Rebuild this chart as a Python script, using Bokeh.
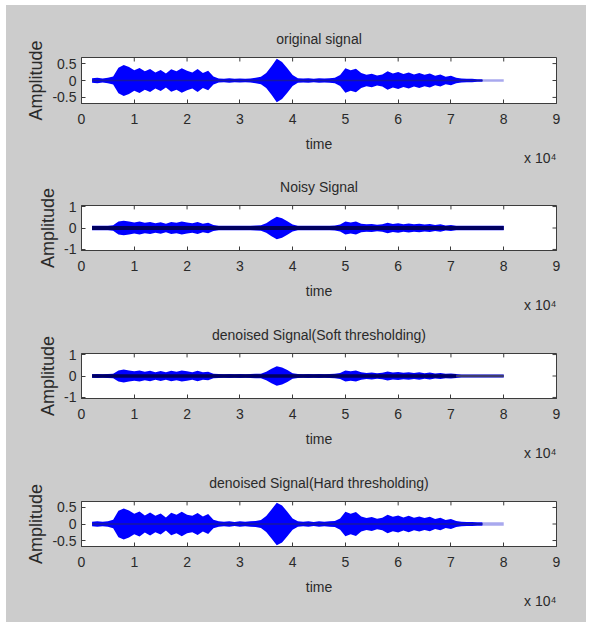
import numpy as np
from bokeh.plotting import figure
from bokeh.layouts import column
from bokeh.models import FixedTicker, Range1d, Title
from bokeh.embed import file_html
from bokeh.resources import INLINE

# ---------------- data ----------------
titles = ["original signal", "Noisy Signal",
          "denoised Signal(Soft thresholding)", "denoised Signal(Hard thresholding)"]
x_label = "time"
y_label = "Amplitude"
x_ticks = [0, 10000, 20000, 30000, 40000, 50000, 60000, 70000, 80000, 90000]
x_tick_labels = ["0", "1", "2", "3", "4", "5", "6", "7", "8", "9"]
x_multiplier = "x 10\u2074"
y_ticks_small = [-0.5, 0, 0.5]
y_tick_labels_small = ["-0.5", "0", "0.5"]
y_ticks_big = [-1, 0, 1]
y_tick_labels_big = ["-1", "0", "1"]
y_limits = [0.68, 1.05, 1.05, 0.68]

sample_times = [2000, 3000, 4000, 5000, 6000, 7000, 8000, 9000, 10000, 11000,
                12000, 13000, 14000, 15000, 16000, 17000, 18000, 19000, 20000, 21000,
                22000, 23000, 24000, 25000, 26000, 27000, 28000, 29000, 30000, 31000,
                32000, 33000, 34000, 35000, 36000, 37000, 38000, 39000, 40000, 41000,
                42000, 43000, 44000, 45000, 46000, 47000, 48000, 49000, 50000, 51000,
                52000, 53000, 54000, 55000, 56000, 57000, 58000, 59000, 60000, 61000,
                62000, 63000, 64000, 65000, 66000, 67000, 68000, 69000, 70000, 71000,
                72000, 73000, 74000, 75000, 76000, 77000, 78000, 79000, 80000]

env_original = [0.07, 0.08, 0.06, 0.08, 0.12,
                0.38, 0.46, 0.40, 0.30, 0.37,
                0.27, 0.34, 0.24, 0.31, 0.21,
                0.33, 0.27, 0.36, 0.29, 0.24,
                0.34, 0.22, 0.29, 0.12, 0.06,
                0.05, 0.07, 0.05, 0.06, 0.05,
                0.06, 0.08, 0.11, 0.22, 0.42,
                0.64, 0.55, 0.36, 0.16, 0.07,
                0.06, 0.07, 0.05, 0.07, 0.06,
                0.07, 0.08, 0.16, 0.36, 0.30,
                0.35, 0.22, 0.17, 0.20, 0.15,
                0.18, 0.27, 0.21, 0.25, 0.19,
                0.24, 0.18, 0.22, 0.17, 0.21,
                0.14, 0.18, 0.11, 0.14, 0.08,
                0.06, 0.05, 0.05, 0.04, 0.04,
                0.04, 0.04, 0.04, 0.04]

env_noisy = [0.10, 0.11, 0.10, 0.11, 0.13,
             0.30, 0.34, 0.30, 0.26, 0.30,
             0.24, 0.28, 0.22, 0.27, 0.20,
             0.28, 0.24, 0.30, 0.26, 0.22,
             0.28, 0.20, 0.24, 0.14, 0.11,
             0.10, 0.11, 0.10, 0.11, 0.10,
             0.11, 0.12, 0.13, 0.22, 0.38,
             0.52, 0.46, 0.32, 0.16, 0.11,
             0.10, 0.11, 0.10, 0.11, 0.10,
             0.11, 0.12, 0.16, 0.30, 0.26,
             0.30, 0.20, 0.17, 0.19, 0.15,
             0.17, 0.24, 0.19, 0.22, 0.18,
             0.21, 0.17, 0.20, 0.16, 0.19,
             0.14, 0.17, 0.12, 0.14, 0.11,
             0.10, 0.10, 0.10, 0.10, 0.10,
             0.10, 0.10, 0.10, 0.10]

env_soft = [0.08, 0.09, 0.08, 0.09, 0.11,
            0.26, 0.30, 0.26, 0.22, 0.26,
            0.20, 0.24, 0.18, 0.23, 0.17,
            0.24, 0.20, 0.26, 0.22, 0.18,
            0.24, 0.17, 0.20, 0.11, 0.09,
            0.08, 0.09, 0.08, 0.09, 0.08,
            0.09, 0.10, 0.11, 0.20, 0.34,
            0.46, 0.40, 0.28, 0.13, 0.09,
            0.08, 0.09, 0.08, 0.09, 0.08,
            0.09, 0.10, 0.14, 0.26, 0.22,
            0.26, 0.17, 0.14, 0.16, 0.13,
            0.15, 0.21, 0.16, 0.19, 0.15,
            0.18, 0.14, 0.17, 0.13, 0.16,
            0.12, 0.14, 0.10, 0.12, 0.09,
            0.07, 0.07, 0.07, 0.07, 0.07,
            0.07, 0.07, 0.07, 0.07]

env_hard = [0.07, 0.08, 0.07, 0.08, 0.13,
            0.40, 0.47, 0.41, 0.31, 0.38,
            0.26, 0.35, 0.25, 0.32, 0.20,
            0.34, 0.28, 0.37, 0.28, 0.25,
            0.33, 0.23, 0.30, 0.13, 0.08,
            0.07, 0.08, 0.06, 0.08, 0.07,
            0.08, 0.09, 0.12, 0.24, 0.44,
            0.64, 0.56, 0.37, 0.17, 0.08,
            0.07, 0.08, 0.06, 0.08, 0.07,
            0.08, 0.09, 0.17, 0.37, 0.31,
            0.36, 0.23, 0.18, 0.21, 0.16,
            0.19, 0.28, 0.22, 0.26, 0.20,
            0.25, 0.19, 0.23, 0.18, 0.22,
            0.15, 0.19, 0.12, 0.15, 0.09,
            0.07, 0.06, 0.06, 0.05, 0.05,
            0.05, 0.05, 0.05, 0.05]

fade_start = 76000      # faint tail of original / hard-thresholded signal
core_fade_soft = 71000  # grey core of soft-thresholded signal

# ---------------- style ----------------
GRAY = "#cccccc"
BLUE = "#0000ff"
FAINT = "#a8a8ee"
TEXT = "#2a2a2a"
FRAME = "#3c3c3c"
FONT = "Liberation Sans"

FIG_W = 580
FRAME_L = 75
FRAME_W = 475
FRAME_H = 46
fig_heights = [161, 148, 148, 160]
top_borders = [52, 38, 38, 38]
TICK_PX = 4

t = np.array(sample_times, dtype=float)


def style_axis(ax, ticks, labels):
    ax.ticker = FixedTicker(ticks=ticks)
    ax.major_label_overrides = {tk: lb for tk, lb in zip(ticks, labels)}
    ax.minor_tick_line_color = None
    ax.major_tick_in = TICK_PX
    ax.major_tick_out = 0
    ax.major_tick_line_color = FRAME
    ax.axis_line_color = FRAME
    ax.major_label_text_color = TEXT
    ax.major_label_text_font = FONT
    ax.major_label_text_font_size = "14px"


def make_panel(i, env, core_color, core_width, fade=None, core_fade=None):
    lim = y_limits[i]
    h = fig_heights[i]
    p = figure(width=FIG_W, height=h,
               x_range=Range1d(0, 90000), y_range=Range1d(-lim, lim),
               output_backend="svg", toolbar_location=None,
               min_border_left=FRAME_L, min_border_right=FIG_W - FRAME_L - FRAME_W,
               min_border_top=top_borders[i],
               min_border_bottom=h - top_borders[i] - FRAME_H,
               background_fill_color="white", border_fill_color=GRAY,
               outline_line_color=FRAME, outline_line_width=1)
    p.xgrid.visible = False
    p.ygrid.visible = False

    if lim < 1:
        yt, yl = y_ticks_small, y_tick_labels_small
    else:
        yt, yl = y_ticks_big, y_tick_labels_big

    style_axis(p.xaxis[0], x_ticks, x_tick_labels)
    style_axis(p.yaxis[0], yt, yl)
    p.xaxis[0].major_label_standoff = 10
    p.yaxis[0].major_label_standoff = 5
    p.xaxis[0].axis_label = x_label
    p.yaxis[0].axis_label = y_label
    p.xaxis[0].axis_label_text_font = FONT
    p.xaxis[0].axis_label_text_font_size = "14px"
    p.xaxis[0].axis_label_text_font_style = "normal"
    p.xaxis[0].axis_label_text_color = TEXT
    p.xaxis[0].axis_label_standoff = 9
    p.yaxis[0].axis_label_text_font = FONT
    p.yaxis[0].axis_label_text_font_size = "18px"
    p.yaxis[0].axis_label_text_font_style = "normal"
    p.yaxis[0].axis_label_text_color = TEXT
    p.yaxis[0].axis_label_standoff = 3

    p.title.text = titles[i]
    p.title.align = "center"
    p.title.text_font = FONT
    p.title.text_font_size = "14px"
    p.title.text_font_style = "normal"
    p.title.text_color = TEXT
    p.title.standoff = 21

    # "x 10^4" multiplier below the right end of the x axis, tucked up beside "time"
    p.add_layout(Title(text=x_multiplier, align="right", vertical_align="top",
                       text_font=FONT, text_font_size="14px", text_color=TEXT,
                       text_font_style="normal", standoff=-10), "below")

    upp_y = 2 * lim / FRAME_H
    upp_x = 90000 / FRAME_W
    # inward ticks on the top and right edges of the box (MATLAB style)
    yt_arr = np.array(yt, dtype=float)
    xt_arr = np.array(x_ticks, dtype=float)
    p.segment(x0=xt_arr, y0=np.full_like(xt_arr, lim), x1=xt_arr,
              y1=np.full_like(xt_arr, lim - TICK_PX * upp_y), line_color=FRAME, line_width=1)
    p.segment(x0=np.full_like(yt_arr, 90000), y0=yt_arr,
              x1=np.full_like(yt_arr, 90000 - TICK_PX * upp_x), y1=yt_arr,
              line_color=FRAME, line_width=1)

    e = np.array(env, dtype=float)
    if fade is None:
        p.varea(x=t, y1=-e, y2=e, fill_color=BLUE)
    else:
        m = t <= fade
        n = t >= fade
        p.varea(x=t[m], y1=-e[m], y2=e[m], fill_color=BLUE)
        p.varea(x=t[n], y1=-e[n], y2=e[n], fill_color=FAINT)

    zeros = np.zeros_like(t)
    if core_fade is None:
        lim_core = fade if fade is not None else t.max()
        m = t <= lim_core
        p.line(t[m], zeros[m], line_color=core_color, line_width=core_width)
    else:
        m = t <= core_fade
        n = t >= core_fade
        p.line(t[m], zeros[m], line_color=core_color, line_width=core_width)
        p.line(t[n], zeros[n], line_color="#3c3c6c", line_width=core_width - 1)
    return p


p1 = make_panel(0, env_original, "#1818a0", 1.5, fade=fade_start)
p2 = make_panel(1, env_noisy, "#000060", 4)
p3 = make_panel(2, env_soft, "#000060", 3.5, core_fade=core_fade_soft)
p4 = make_panel(3, env_hard, "#1818a0", 1.5, fade=fade_start)

layout = column(p1, p2, p3, p4, spacing=0, background=GRAY, margin=(5, 0, 0, 6))
open("out.html", "w").write(file_html(layout, INLINE))
